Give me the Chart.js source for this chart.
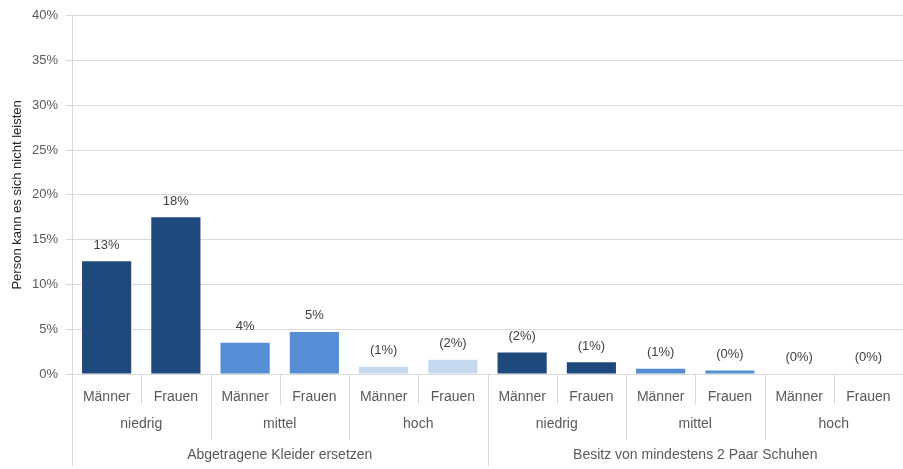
<!DOCTYPE html>
<html>
<head>
<meta charset="utf-8">
<script src="https://cdn.jsdelivr.net/npm/chart.js@4"></script>
<style>
  html, body { margin: 0; padding: 0; background: #fff; }
  #wrap { width: 903px; height: 469px; }
</style>
</head>
<body>
<div id="wrap"><canvas id="chart"></canvas></div>
<script>
// data
const geschlecht = ["Männer", "Frauen", "Männer", "Frauen", "Männer", "Frauen",
                    "Männer", "Frauen", "Männer", "Frauen", "Männer", "Frauen"];
const bildung = ["niedrig", "mittel", "hoch", "niedrig", "mittel", "hoch"];
const merkmal = ["Abgetragene Kleider ersetzen", "Besitz von mindestens 2 Paar Schuhen"];
const werte = [12.6, 17.5, 3.5, 4.7, 0.8, 1.6, 2.4, 1.3, 0.6, 0.4, 0.05, 0.05];
// parentheses = low case numbers
const unsicher = [false, false, false, false, true, true, true, true, true, true, true, true];
const farben = ["#1f497d", "#1f497d", "#558ed5", "#558ed5", "#c6d9f1", "#c6d9f1",
                "#1f497d", "#1f497d", "#558ed5", "#558ed5", "#c6d9f1", "#c6d9f1"];

const FONT = "'Liberation Sans', Arial, sans-serif";
const GREY = "#595959";
const LINE = "#d9d9d9";

const extraLabels = {
  id: "extraLabels",
  afterDatasetsDraw(chart) {
    const ctx = chart.ctx;
    const x = chart.scales.x;
    const y = chart.scales.y;
    const bottom = y.bottom;
    const step = x.getPixelForValue(1) - x.getPixelForValue(0);
    ctx.save();
    ctx.font = "13px " + FONT;
    ctx.fillStyle = "#404040";
    ctx.textAlign = "center";
    ctx.textBaseline = "middle";
    // value labels
    const meta = chart.getDatasetMeta(0);
    meta.data.forEach((bar, i) => {
      const v = Math.round(werte[i]) + "%";
      ctx.fillText(unsicher[i] ? "(" + v + ")" : v, bar.x, bar.y - 16);
    });
    // separators
    ctx.strokeStyle = LINE;
    ctx.lineWidth = 1;
    for (let i = 0; i <= geschlecht.length; i++) {
      const px = Math.round(x.getPixelForValue(i) - step / 2) + 0.5;
      let len = 31;
      if (i % 2 === 0) len = 66;
      if (i % 6 === 0) len = 92;
      if (i === geschlecht.length) len = 31;
      ctx.beginPath();
      ctx.moveTo(px, bottom);
      ctx.lineTo(px, bottom + len);
      ctx.stroke();
    }
    ctx.font = "14px " + FONT;
    ctx.fillStyle = GREY;
    bildung.forEach((b, g) => {
      const cx = (x.getPixelForValue(g * 2) + x.getPixelForValue(g * 2 + 1)) / 2;
      ctx.fillText(b, cx, bottom + 50);
    });
    merkmal.forEach((m, g) => {
      const cx = (x.getPixelForValue(g * 6) + x.getPixelForValue(g * 6 + 5)) / 2;
      ctx.fillText(m, cx, bottom + 81);
    });
    ctx.restore();
  }
};

new Chart(document.getElementById("chart"), {
  type: "bar",
  data: {
    labels: geschlecht,
    datasets: [{
      data: werte,
      backgroundColor: farben,
      categoryPercentage: 1,
      barPercentage: 0.71
    }]
  },
  options: {
    responsive: true,
    maintainAspectRatio: false,
    animation: false,
    layout: { padding: { top: 5, right: 0, left: 8, bottom: 0 } },
    plugins: { legend: { display: false }, tooltip: { enabled: false } },
    scales: {
      x: {
        grid: { display: false },
        border: { color: LINE },
        ticks: { color: GREY, font: { family: FONT, size: 14 }, padding: 7, maxRotation: 0, autoSkip: false },
        afterFit(scale) { scale.height = 95; }
      },
      y: {
        min: 0,
        max: 40,
        ticks: {
          stepSize: 5,
          color: GREY,
          font: { family: FONT, size: 13 },
          padding: 8,
          callback: v => v + "%"
        },
        grid: { color: LINE, tickLength: 6 },
        border: { color: LINE },
        title: {
          display: true,
          text: "Person kann es sich nicht leisten",
          color: "#262626",
          font: { family: FONT, size: 13 },
          padding: 2
        },
        afterFit(scale) { scale.width = 64; }
      }
    }
  },
  plugins: [extraLabels]
});
</script>
</body>
</html>
